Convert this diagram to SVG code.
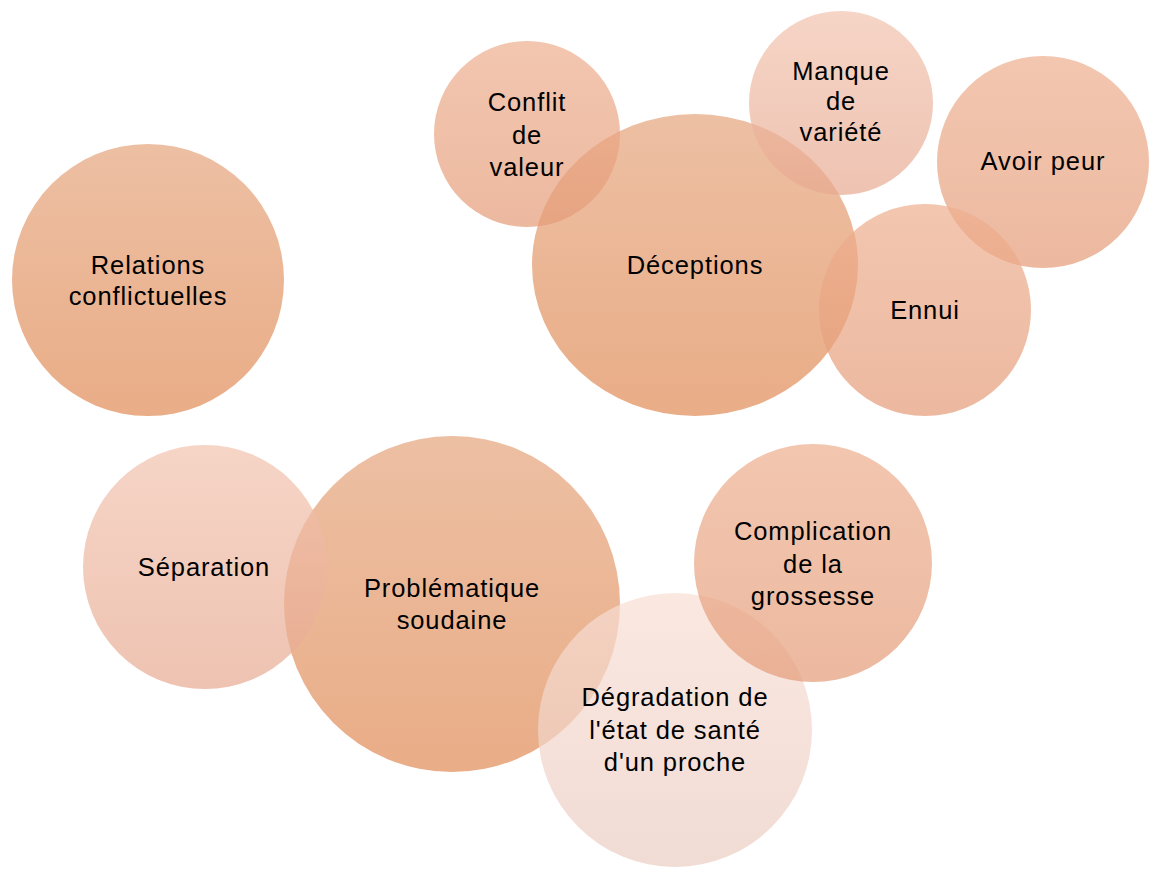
<svg xmlns="http://www.w3.org/2000/svg" width="1150" height="869" viewBox="0 0 1150 869">
<defs>
<linearGradient id="gMain" x1="0" y1="0" x2="0" y2="1"><stop offset="0" stop-color="#E5A47C"/><stop offset="1" stop-color="#E08A54"/></linearGradient>
<linearGradient id="gMed" x1="0" y1="0" x2="0" y2="1"><stop offset="0" stop-color="#EEAE8E"/><stop offset="1" stop-color="#E49B77"/></linearGradient>
<linearGradient id="gLight" x1="0" y1="0" x2="0" y2="1"><stop offset="0" stop-color="#F2C3AE"/><stop offset="1" stop-color="#E7A991"/></linearGradient>
<linearGradient id="gPale" x1="0" y1="0" x2="0" y2="1"><stop offset="0" stop-color="#F8DED4"/><stop offset="1" stop-color="#EBCDC2"/></linearGradient>
</defs>
<style>
.c{fill-opacity:0.7;stroke:none}
.main{fill:url(#gMain)}
.med{fill:url(#gMed)}
.light{fill:url(#gLight)}
.pale{fill:url(#gPale)}
text{font-family:"Liberation Sans",Arial,sans-serif;font-size:25.5px;letter-spacing:0.9px;fill:#000;text-anchor:middle}
</style>
<rect width="1150" height="869" fill="#FFFFFF"/>
<g id="connectors"/>
<g id="n-relations"><circle class="c main" cx="148" cy="280" r="136"/><text x="148" y="274">Relations</text><text x="148" y="305">conflictuelles</text></g>
<g id="n-deceptions"><ellipse class="c main" cx="695" cy="265" rx="163" ry="151"/><text x="695" y="274">Déceptions</text></g>
<g id="n-problematique"><circle class="c main" cx="452" cy="604" r="168"/><text x="452" y="597">Problématique</text><text x="452" y="629">soudaine</text></g>
<g id="n-conflit"><circle class="c med" cx="527" cy="134" r="93"/><text x="527" y="111">Conflit</text><text x="527" y="144">de</text><text x="527" y="176">valeur</text></g>
<g id="n-manque"><circle class="c light" cx="841" cy="103" r="92"/><text x="841" y="80">Manque</text><text x="841" y="110">de</text><text x="841" y="141">variété</text></g>
<g id="n-avoirpeur"><circle class="c med" cx="1043" cy="162" r="106"/><text x="1043" y="170">Avoir peur</text></g>
<g id="n-ennui"><circle class="c med" cx="925" cy="310" r="106"/><text x="925" y="319">Ennui</text></g>
<g id="n-separation"><circle class="c light" cx="205" cy="567" r="122"/><text x="204" y="576">Séparation</text></g>
<g id="n-degradation"><circle class="c pale" cx="675" cy="730" r="137"/><text x="675" y="706">Dégradation de</text><text x="675" y="739">l'état de santé</text><text x="675" y="771">d'un proche</text></g>
<g id="n-complication"><circle class="c med" cx="813" cy="563" r="119"/><text x="813" y="540">Complication</text><text x="813" y="573">de la</text><text x="813" y="605">grossesse</text></g>
</svg>
